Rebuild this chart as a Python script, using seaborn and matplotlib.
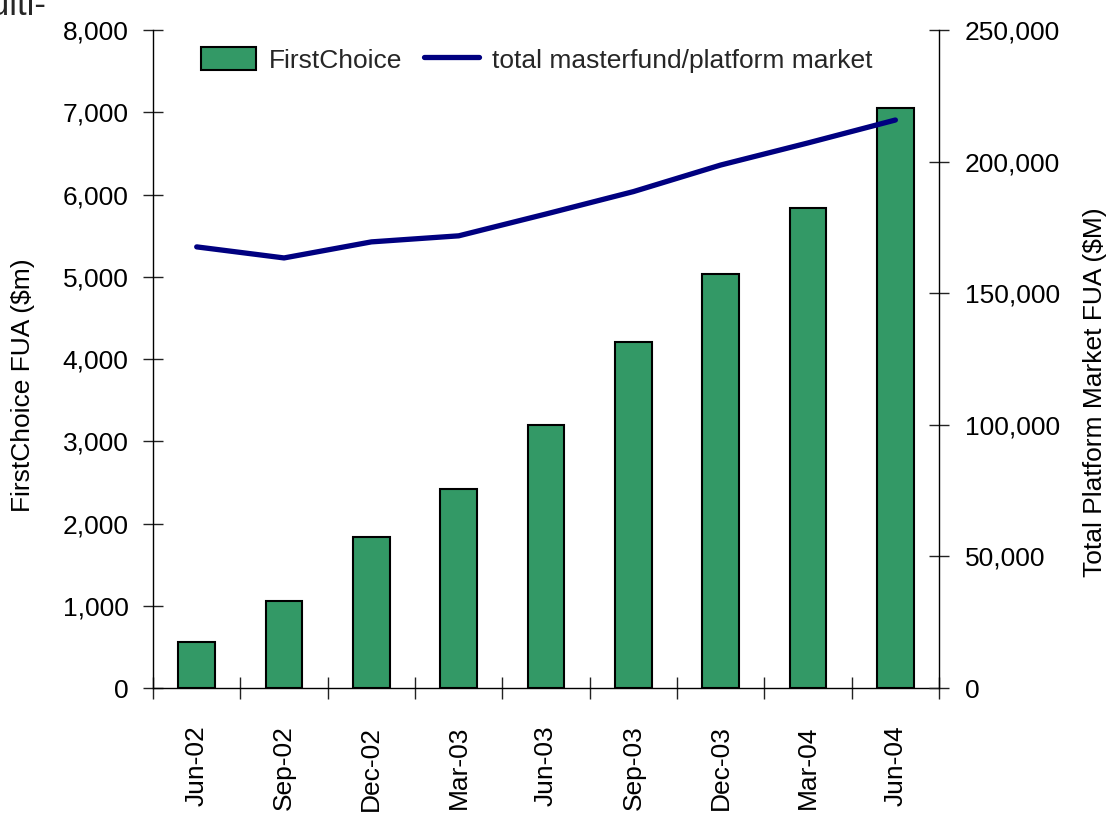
import numpy as np
import pandas as pd
import seaborn as sns
import matplotlib.pyplot as plt
from matplotlib.ticker import FuncFormatter, FixedLocator

# datos
trimestres = ['Jun-02', 'Sep-02', 'Dec-02', 'Mar-03', 'Jun-03', 'Sep-03', 'Dec-03', 'Mar-04', 'Jun-04']
fua_firstchoice = [560, 1060, 1835, 2420, 3200, 4205, 5030, 5835, 7050]
fua_mercado = [167600, 163400, 169500, 171800, 180100, 188600, 198700, 207100, 215800]

sns.set_style('white')
plt.rcParams['font.family'] = ['Liberation Sans', 'DejaVu Sans']

df = pd.DataFrame({'trimestre': trimestres, 'firstchoice': fua_firstchoice, 'mercado': fua_mercado})
df['pos'] = np.arange(len(df))

fig = plt.figure(figsize=(11.13, 8.22), dpi=100)
ax = fig.add_axes([0.1375, 0.163, 0.7062, 0.8005])

sns.barplot(data=df, x='trimestre', y='firstchoice', color='#339966', saturation=1,
            width=0.42, edgecolor='black', linewidth=1.5, ax=ax, label='FirstChoice')
if ax.get_legend() is not None:
    ax.get_legend().remove()

ax2 = ax.twinx()
sns.lineplot(data=df, x='pos', y='mercado', color='#000080', linewidth=3.8, ax=ax2,
             label='total masterfund/platform market', legend=False)

ax.set_xlim(-0.5, 8.5)
ax.set_ylim(0, 8000)
ax2.set_ylim(0, 250000)

coma = FuncFormatter(lambda v, p: f'{v:,.0f}')
ax.yaxis.set_major_formatter(coma)
ax2.yaxis.set_major_formatter(coma)
ax.set_yticks(np.arange(0, 8001, 1000))
ax2.set_yticks(np.arange(0, 250001, 50000))

ax.set_xticks(np.arange(9))
ax.set_xticklabels(trimestres, rotation=90, va='top', ha='center')
ax.xaxis.set_minor_locator(FixedLocator(np.arange(-0.5, 9, 1)))

fs = 19
ax.tick_params(axis='y', direction='inout', length=14.4, width=1, colors='#222222',
               labelcolor='black', labelsize=fs, pad=10.5, left=True)
ax2.tick_params(axis='y', direction='inout', length=14.4, width=1, colors='#222222',
                labelcolor='black', labelsize=fs, pad=11.5, right=True)
ax.tick_params(axis='x', which='major', length=0, labelsize=fs, pad=27, bottom=True,
               labelcolor='black')
ax.tick_params(axis='x', which='minor', direction='inout', length=16, width=1,
               colors='#222222', bottom=True)
ax2.tick_params(axis='x', length=0)

for a in (ax, ax2):
    a.spines['top'].set_visible(False)
    for s in ('left', 'right', 'bottom'):
        a.spines[s].set_color('black')
        a.spines[s].set_linewidth(1)
ax.spines['right'].set_visible(False)
ax2.spines['left'].set_visible(False)
ax2.spines['bottom'].set_visible(False)

ax.set_xlabel('')
ax.set_ylabel('FirstChoice FUA ($m)', fontsize=fs, color='black')
ax.yaxis.set_label_coords(-0.15, 0.46)
ax2.set_ylabel('Total Platform Market FUA ($M)', fontsize=fs, color='black')
ax2.yaxis.set_label_coords(1.183, 0.45)

h1, l1 = ax.get_legend_handles_labels()
h2, l2 = ax2.get_legend_handles_labels()
ax2.legend(h1 + h2, l1 + l2, loc='upper left', bbox_to_anchor=(0.047, 0.99), ncol=2,
           frameon=False, fontsize=fs, handlelength=2.1, handleheight=0.95,
           handletextpad=0.5, columnspacing=0.8, borderaxespad=0)

# texto cortado arriba a la izquierda
fig.text(-0.035, 1 - 15 / 822, 'Multi-', fontsize=25, va='baseline', ha='left')

fig.savefig('out.png', dpi=100)
